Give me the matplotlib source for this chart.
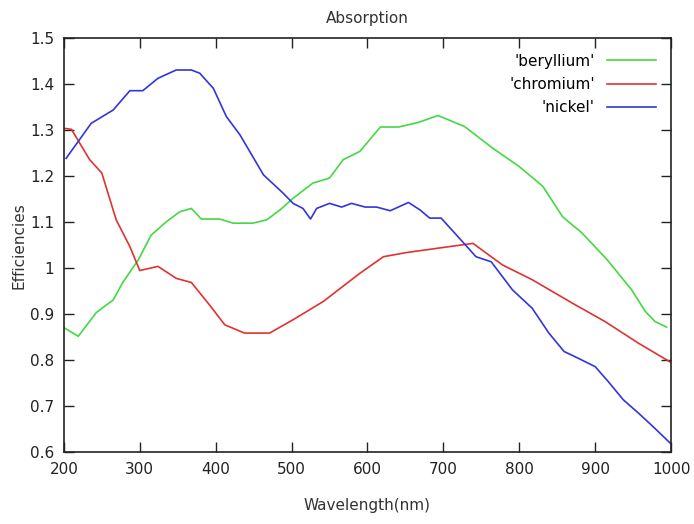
import matplotlib
matplotlib.use('Agg')
import matplotlib.pyplot as plt

plt.rcParams['font.family'] = ['DejaVu Sans']

beryllium_x = [201, 219, 243, 265, 278, 298, 315, 335, 353, 368, 381, 405, 423,
               449, 467, 485, 502, 528, 550, 568, 590, 617, 641, 667, 693, 728,
               765, 800, 831, 857, 883, 916, 948, 966, 979, 994]
beryllium_y = [0.870, 0.852, 0.904, 0.931, 0.970, 1.018, 1.072, 1.101, 1.123,
               1.130, 1.107, 1.107, 1.098, 1.098, 1.105, 1.127, 1.152, 1.185,
               1.196, 1.236, 1.254, 1.307, 1.307, 1.317, 1.332, 1.308, 1.261,
               1.221, 1.178, 1.112, 1.076, 1.018, 0.953, 0.906, 0.884, 0.872]

chromium_x = [201, 210, 234, 250, 269, 287, 300, 324, 348, 368, 392, 412, 438,
              471, 502, 542, 590, 621, 651, 708, 739, 778, 817, 870, 913, 957,
              1000]
chromium_y = [1.304, 1.302, 1.236, 1.207, 1.105, 1.047, 0.995, 1.004, 0.978,
              0.969, 0.920, 0.877, 0.859, 0.859, 0.888, 0.928, 0.989, 1.025,
              1.034, 1.047, 1.054, 1.007, 0.975, 0.924, 0.884, 0.837, 0.795]

nickel_x = [203, 236, 265, 287, 304, 324, 348, 368, 379, 397, 414, 432, 463,
            489, 502, 515, 525, 533, 550, 566, 579, 597, 612, 630, 654, 669,
            682, 697, 713, 743, 763, 791, 817, 839, 859, 878, 900, 917, 937,
            957, 976, 1000]
nickel_y = [1.239, 1.315, 1.344, 1.386, 1.386, 1.413, 1.431, 1.431, 1.424,
            1.391, 1.330, 1.290, 1.203, 1.163, 1.141, 1.130, 1.107, 1.130,
            1.141, 1.133, 1.141, 1.133, 1.133, 1.125, 1.143, 1.127, 1.109,
            1.109, 1.080, 1.025, 1.014, 0.953, 0.913, 0.859, 0.819, 0.804,
            0.786, 0.754, 0.714, 0.685, 0.656, 0.618]

fig = plt.figure(figsize=(6.94, 5.24), dpi=100)
ax = fig.add_axes([0.092, 0.137, 0.875, 0.790])

ax.plot(beryllium_x, beryllium_y, color='#44d844', lw=1.2, label="'beryllium'")
ax.plot(chromium_x, chromium_y, color='#e03232', lw=1.2, label="'chromium'")
ax.plot(nickel_x, nickel_y, color='#3434dc', lw=1.2, label="'nickel'")

ax.set_xlim(200, 1000)
ax.set_ylim(0.6, 1.5)
ax.set_xticks(range(200, 1001, 100))
ax.set_yticks([0.6, 0.7, 0.8, 0.9, 1.0, 1.1, 1.2, 1.3, 1.4, 1.5])
ax.set_yticklabels(['0.6', '0.7', '0.8', '0.9', '1', '1.1', '1.2', '1.3', '1.4', '1.5'])
ax.tick_params(direction='in', top=True, right=True, length=7, width=1,
               labelsize=11, colors='#222222', pad=7)
for s in ax.spines.values():
    s.set_linewidth(1.2)
    s.set_color('#222222')

ax.set_title('Absorption', fontsize=11, color='#333333', pad=11)
ax.set_xlabel('Wavelength(nm)', fontsize=11, color='#333333', labelpad=15)
ax.set_ylabel('Efficiencies', fontsize=11, color='#333333')
ax.yaxis.set_label_coords(-0.062, 0.5)

ax.legend(loc='upper right', frameon=False, markerfirst=False, fontsize=11,
          handlelength=3.2, labelspacing=0.55, borderaxespad=0.6)

fig.savefig('out.png', dpi=100)
